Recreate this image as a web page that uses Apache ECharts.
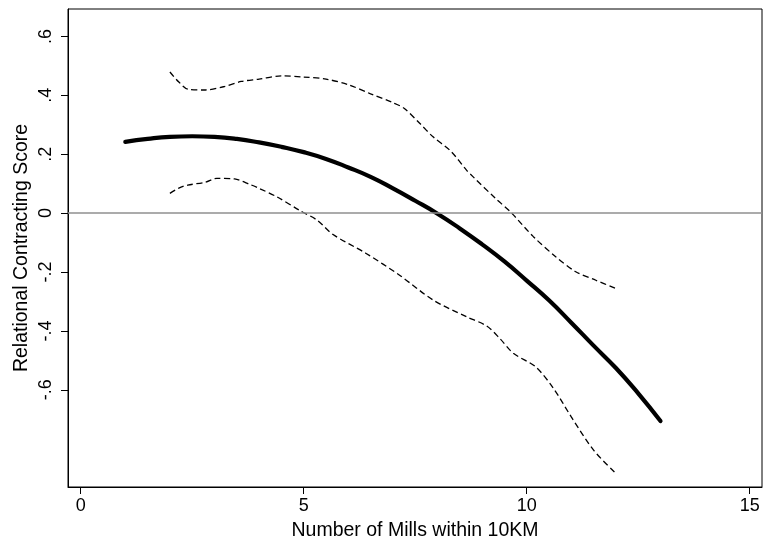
<!DOCTYPE html>
<html>
<head>
<meta charset="utf-8">
<script src="https://cdn.jsdelivr.net/npm/echarts@6/dist/echarts.min.js"></script>
<style>
html,body{margin:0;padding:0;background:#fff;}
#chart{width:763px;height:541px;}
</style>
</head>
<body>
<div id="chart"></div>
<script>
// Fitted line (solid)
var fitX = [1, 1.5, 2, 2.5, 3, 3.5, 4, 4.5, 5, 5.5, 6, 6.5, 7, 7.5, 8, 8.5, 9, 9.5, 10, 10.5, 11, 11.5, 12, 12.5, 13];
var fitY = [0.242, 0.252, 0.259, 0.261, 0.259, 0.252, 0.240, 0.225, 0.207, 0.184, 0.155, 0.123, 0.084, 0.042, -0.002, -0.052, -0.106, -0.164, -0.229, -0.296, -0.372, -0.450, -0.526, -0.612, -0.706];
// Upper confidence bound (dashed)
var upX = [2.0, 2.2, 2.4, 2.8, 3.2, 3.6, 4.0, 4.5, 5.0, 5.5, 6.0, 6.5, 7.0, 7.25, 7.6, 7.9, 8.3, 8.65, 8.8, 9.3, 9.65, 10.15, 10.65, 11.1, 11.55, 12.0];
var upY = [0.479, 0.445, 0.421, 0.418, 0.429, 0.447, 0.455, 0.466, 0.462, 0.455, 0.436, 0.405, 0.375, 0.356, 0.305, 0.259, 0.210, 0.146, 0.123, 0.050, 0.002, -0.080, -0.148, -0.199, -0.228, -0.256];
// Lower confidence bound (dashed)
var loX = [2.0, 2.2, 2.4, 2.8, 3.05, 3.45, 3.8, 4.0, 4.4, 4.9, 5.3, 5.65, 6.4, 7.15, 7.9, 8.65, 9.1, 9.4, 9.7, 10.2, 10.6, 11.0, 11.5, 12.0];
var loY = [0.067, 0.085, 0.095, 0.105, 0.118, 0.116, 0.097, 0.084, 0.055, 0.010, -0.024, -0.072, -0.137, -0.211, -0.295, -0.352, -0.383, -0.426, -0.476, -0.522, -0.595, -0.692, -0.805, -0.884];
// Tick values and labels
var xTicks = [0, 5, 10, 15];
var yTicks = [-0.6, -0.4, -0.2, 0, 0.2, 0.4, 0.6];
var yTickLabels = {"-0.6": "-.6", "-0.4": "-.4", "-0.2": "-.2", "0": "0", "0.2": ".2", "0.4": ".4", "0.6": ".6"};
var xTitle = "Number of Mills within 10KM";
var yTitle = "Relational Contracting Score";

function pairs(xs, ys) { return xs.map(function (x, i) { return [x, ys[i]]; }); }

var chart = echarts.init(document.getElementById('chart'), null, {renderer: 'canvas'});
var FONT = 'Liberation Sans, Arial, sans-serif';
chart.setOption({
  animation: false,
  backgroundColor: '#fff',
  grid: {left: 68, top: 9, right: 1, bottom: 54, show: true, borderColor: '#000', borderWidth: 1,
    containLabel: false, outerBoundsMode: 'none'},
  xAxis: {
    type: 'value', min: -0.285, max: 15.276,
    splitLine: {show: false},
    axisLine: {show: true, onZero: false, lineStyle: {color: '#000', width: 1}},
    axisTick: {show: true, length: 7, lineStyle: {color: '#000'}, customValues: xTicks},
    axisLabel: {show: true, customValues: xTicks, margin: 10, color: '#000', fontSize: 18, fontFamily: FONT},
    name: xTitle, nameLocation: 'middle', nameGap: 34, nameMoveOverlap: false,
    nameTextStyle: {color: '#000', fontSize: 19.5, fontFamily: FONT}
  },
  yAxis: {
    type: 'value', min: -0.93, max: 0.693,
    splitLine: {show: false},
    axisLine: {show: true, onZero: false, lineStyle: {color: '#000', width: 1}},
    axisTick: {show: true, length: 7, lineStyle: {color: '#000'}, customValues: yTicks},
    axisLabel: {show: true, customValues: yTicks, rotate: 90, margin: 13, color: '#000', fontSize: 18, fontFamily: FONT,
      formatter: function (v) { var k = String(Math.round(v * 10) / 10); return yTickLabels[k] !== undefined ? yTickLabels[k] : k; }},
    name: yTitle, nameLocation: 'middle', nameGap: 36, nameMoveOverlap: false,
    nameTextStyle: {color: '#000', fontSize: 19.5, fontFamily: FONT}
  },
  series: [
    {
      type: 'line', data: [], silent: true,
      markLine: {silent: true, symbol: ['none', 'none'], label: {show: false},
        lineStyle: {color: '#8f8f8f', width: 1.6, type: 'solid'},
        data: [{yAxis: 0}]}
    },
    {type: 'line', data: pairs(upX, upY), showSymbol: false, smooth: 0.3,
      lineStyle: {color: '#000', width: 1.3, type: [6, 3.5]}},
    {type: 'line', data: pairs(loX, loY), showSymbol: false, smooth: 0.3,
      lineStyle: {color: '#000', width: 1.3, type: [6, 3.5]}},
    {type: 'line', data: pairs(fitX, fitY), showSymbol: false, smooth: true,
      lineStyle: {color: '#000', width: 4.2, cap: 'round'}}
  ]
});
</script>
</body>
</html>
